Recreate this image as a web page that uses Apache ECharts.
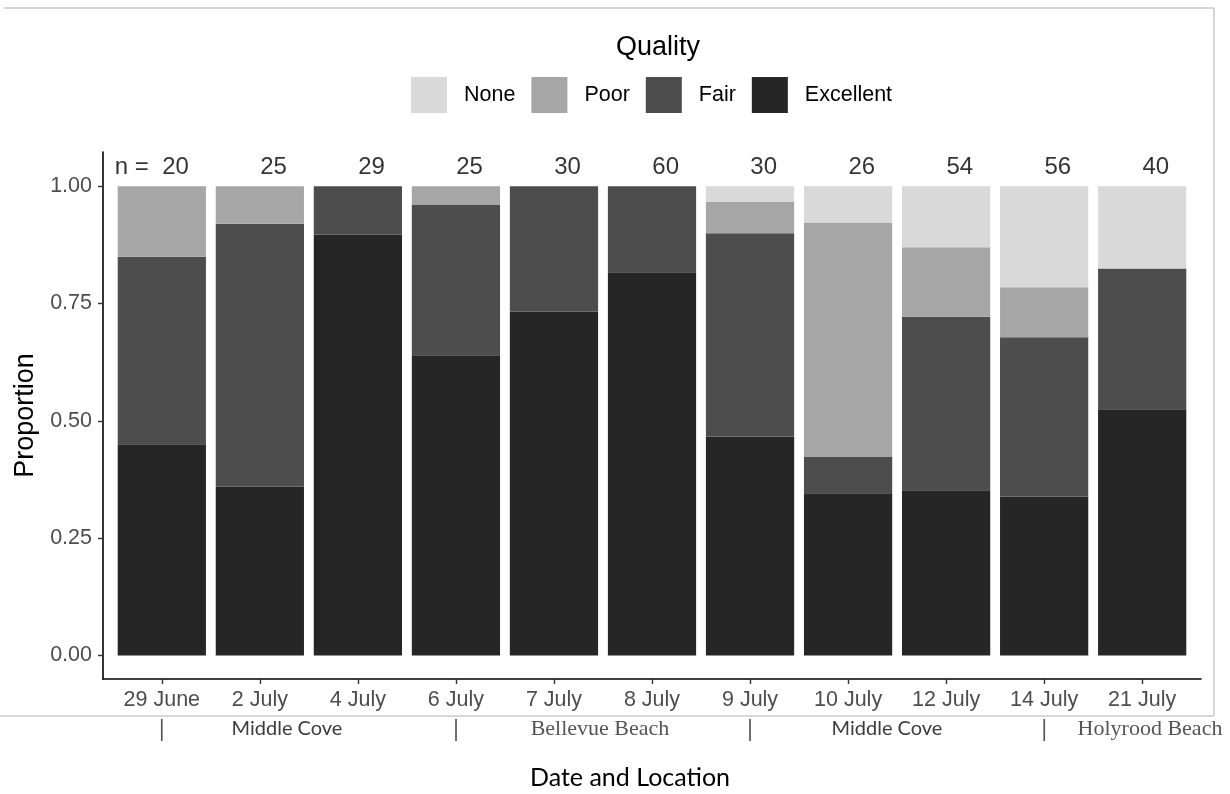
<!DOCTYPE html>
<html>
<head>
<meta charset="utf-8">
<title>Quality by date and location</title>
<script src="https://cdn.jsdelivr.net/npm/echarts@6/dist/echarts.min.js"></script>
<style>
  html, body { margin: 0; padding: 0; background: #ffffff; }
  #chart { width: 1230px; height: 794px; }
</style>
</head>
<body>
<div id="chart"></div>
<script>
// Sampling dates (x categories) and number of observations per date
const categories = ['29 June', '2 July', '4 July', '6 July', '7 July', '8 July', '9 July', '10 July', '12 July', '14 July', '21 July'];
const sampleSizes = [20, 25, 29, 25, 30, 60, 30, 26, 54, 56, 40];

// Proportion of each quality class per date (stacked from the bottom: Excellent, Fair, Poor, None)
const excellent = [0.450, 0.360, 0.897, 0.640, 0.733, 0.817, 0.467, 0.346, 0.352, 0.339, 0.525];
const fair      = [0.400, 0.560, 0.103, 0.320, 0.267, 0.183, 0.433, 0.077, 0.370, 0.339, 0.300];
const poor      = [0.150, 0.080, 0.000, 0.040, 0.000, 0.000, 0.067, 0.500, 0.148, 0.107, 0.000];
const none      = [0.000, 0.000, 0.000, 0.000, 0.000, 0.000, 0.033, 0.077, 0.130, 0.215, 0.175];

// Proportion axis ticks
const yTicks = [0, 0.25, 0.5, 0.75, 1];

// Sampling sites: name and index of the first date at that site
const siteNames = ['Middle Cove', 'Bellevue Beach', 'Middle Cove', 'Holyrood Beach'];
const siteStarts = [0, 3, 6, 9];

const qualityColors = { None: '#d9d9d9', Poor: '#a6a6a6', Fair: '#4d4d4d', Excellent: '#262626' };
const SANS = '"Liberation Sans", Arial, Helvetica, sans-serif';

// Panel geometry: the axis frame extends 0.6 category widths beyond the outer bar centres,
// the bar grid is the inner part holding exactly one band per category.
const FRAME = { left: 103, right: 29, top: 152, bottom: 115 };
const band = (1230 - FRAME.left - FRAME.right) / (categories.length - 1 + 1.2);
const BARS = { left: FRAME.left + 0.1 * band, right: FRAME.right + 0.1 * band, top: FRAME.top, bottom: FRAME.bottom };
const Y_MIN = -0.05, Y_MAX = 1.073;

function barSeries(name, values) {
  return {
    name: name,
    type: 'bar',
    stack: 'quality',
    xAxisIndex: 1,
    yAxisIndex: 1,
    barWidth: '90%',
    itemStyle: { color: qualityColors[name] },
    emphasis: { disabled: true },
    data: values
  };
}

const chart = echarts.init(document.getElementById('chart'), null, { renderer: 'canvas' });

const option = {
  animation: false,
  backgroundColor: '#ffffff',
  title: {
    text: 'Quality',
    left: 653,
    top: 29,
    textAlign: 'center',
    textStyle: { fontFamily: SANS, fontSize: 27, fontWeight: 'normal', color: '#000000' }
  },
  legend: {
    data: ['None', 'Poor', 'Fair', 'Excellent'],
    left: 411,
    top: 77,
    padding: 0,
    icon: 'rect',
    itemWidth: 36,
    itemHeight: 36,
    itemGap: 16,
    selectedMode: false,
    textStyle: { fontFamily: SANS, fontSize: 21.5, color: '#000000', padding: [0, 0, 0, 12] }
  },
  grid: [
    Object.assign({ containLabel: false }, FRAME),
    Object.assign({ containLabel: false }, BARS)
  ],
  xAxis: [
    {
      // visible date axis
      type: 'value',
      gridIndex: 0,
      min: -0.6,
      max: categories.length - 1 + 0.6,
      splitLine: { show: false },
      axisLine: { show: true, onZero: false, lineStyle: { color: '#000000', width: 1.6 } },
      axisTick: {
        show: true,
        length: 5,
        customValues: categories.map((c, i) => i),
        lineStyle: { color: '#333333', width: 1.4 }
      },
      axisLabel: {
        customValues: categories.map((c, i) => i),
        formatter: v => categories[Math.round(v)],
        margin: 10,
        fontFamily: SANS,
        fontSize: 21.5,
        color: '#4d4d4d'
      }
    },
    {
      // category axis that places the stacked bars
      type: 'category',
      gridIndex: 1,
      data: categories,
      show: false
    }
  ],
  yAxis: [
    {
      type: 'value',
      gridIndex: 0,
      min: Y_MIN,
      max: Y_MAX,
      name: 'Proportion',
      nameLocation: 'middle',
      nameGap: 62,
      nameRotate: 90,
      nameTextStyle: { fontFamily: SANS, fontSize: 27, color: '#000000' },
      splitLine: { show: false },
      axisLine: { show: true, onZero: false, lineStyle: { color: '#000000', width: 1.6 } },
      axisTick: { show: true, length: 5, customValues: yTicks, lineStyle: { color: '#333333', width: 1.4 } },
      axisLabel: {
        customValues: yTicks,
        formatter: v => v.toFixed(2),
        margin: 11,
        fontFamily: SANS,
        fontSize: 21.5,
        color: '#4d4d4d'
      }
    },
    {
      type: 'value',
      gridIndex: 1,
      min: Y_MIN,
      max: Y_MAX,
      show: false,
      splitLine: { show: false }
    }
  ],
  series: [
    barSeries('Excellent', excellent),
    barSeries('Fair', fair),
    barSeries('Poor', poor),
    barSeries('None', none),
    {
      // sample size labels above each bar
      name: 'n',
      type: 'scatter',
      xAxisIndex: 1,
      yAxisIndex: 1,
      symbolSize: 0,
      clip: false,
      silent: true,
      data: sampleSizes.map(() => 1.04),
      label: {
        show: true,
        position: 'inside',
        align: 'right',
        verticalAlign: 'middle',
        offset: [27, 0],
        fontFamily: SANS,
        fontSize: 24,
        color: '#000000',
        formatter: p => (p.dataIndex === 0 ? 'n =  ' : '') + sampleSizes[p.dataIndex]
      }
    }
  ]
};

chart.setOption(option);

// Site row below the date labels, plus the thin frame around the figure
const siteLabelX = [287, 600, 887, 1150];
const siteFonts = ['"Lato", "Open Sans", sans-serif', '"Liberation Serif", "Times New Roman", serif',
                   '"Lato", "Open Sans", sans-serif', '"Liberation Serif", "Times New Roman", serif'];
const siteSizes = [20, 22, 20, 22];
const siteColors = ['#3c3c3c', '#555555', '#3c3c3c', '#555555'];

const graphics = [
  { type: 'line', shape: { x1: 4, y1: 8, x2: 1214, y2: 8 }, style: { stroke: '#c8c8c8', lineWidth: 1.5 } },
  { type: 'line', shape: { x1: 1214, y1: 8, x2: 1214, y2: 716 }, style: { stroke: '#c8c8c8', lineWidth: 1.5 } },
  { type: 'line', shape: { x1: 0, y1: 716, x2: 1214, y2: 716 }, style: { stroke: '#c8c8c8', lineWidth: 1.5 } },
  {
    type: 'text', x: 630, y: 778,
    style: { text: 'Date and Location', font: '25px "Lato", "Open Sans", sans-serif', fill: '#000000',
             textAlign: 'center', textVerticalAlign: 'middle' }
  }
];

siteStarts.forEach((start, k) => {
  const px = chart.convertToPixel({ xAxisIndex: 1 }, categories[start]);
  graphics.push({
    type: 'text', x: px, y: 729,
    style: { text: '|', font: '24px "Lato", sans-serif', fill: '#555555', textAlign: 'center', textVerticalAlign: 'middle' }
  });
  graphics.push({
    type: 'text', x: siteLabelX[k], y: 729,
    style: { text: siteNames[k], font: siteSizes[k] + 'px ' + siteFonts[k], fill: siteColors[k],
             textAlign: 'center', textVerticalAlign: 'middle' }
  });
});

chart.setOption({ graphic: graphics });
</script>
</body>
</html>
